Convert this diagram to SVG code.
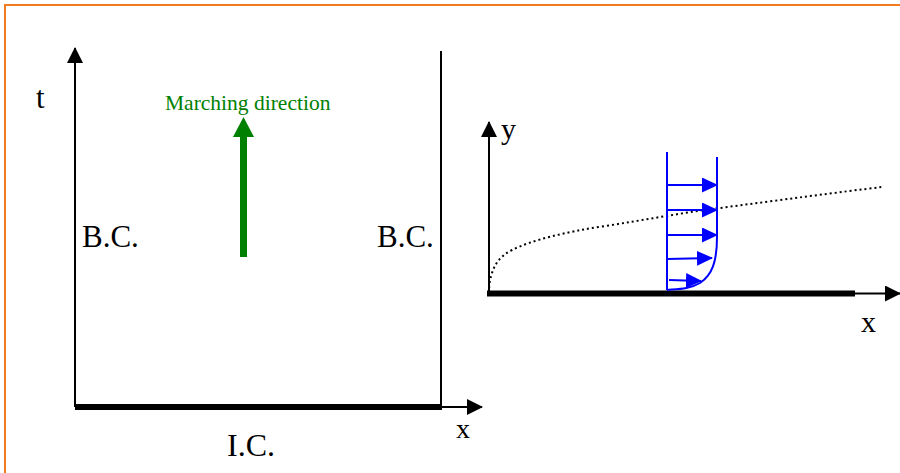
<svg xmlns="http://www.w3.org/2000/svg" width="900" height="473" viewBox="0 0 900 473">
<style>
.txt{font-family:"Liberation Serif","Times New Roman",serif;fill:#000}
.axis{stroke:#000;stroke-width:2;fill:none}
.wall{stroke:#000;stroke-width:6;fill:none}
.vel{stroke:#0000ff;stroke-width:2;fill:none}
</style>
<defs>
<marker id="ah" markerUnits="userSpaceOnUse" markerWidth="16" markerHeight="16" refX="15" refY="8" orient="auto">
<path d="M0,0 L16,8 L0,16 z" fill="#000"/>
</marker>
<marker id="bh" markerUnits="userSpaceOnUse" markerWidth="16" markerHeight="16" refX="15" refY="7.5" orient="auto">
<path d="M0,0 L16,7.5 L0,15 z" fill="#0000ff"/>
</marker>
</defs>
<rect width="900" height="473" fill="#fff"/>
<rect x="5" y="5" width="1000" height="1000" fill="none" stroke="#f47a20" stroke-width="2"/>

<g id="left-domain">
<line class="axis" x1="75" y1="407" x2="75" y2="48" marker-end="url(#ah)"/>
<line class="axis" x1="441" y1="51" x2="441" y2="407"/>
<line class="axis" x1="441" y1="407" x2="482" y2="407" marker-end="url(#ah)"/>
<line class="wall" x1="75" y1="407" x2="442" y2="407" stroke-width="5"/>
<text class="txt" x="36" y="108" font-size="31">t</text>
<text class="txt" x="82" y="247" font-size="31">B.C.</text>
<text class="txt" x="377" y="247" font-size="31">B.C.</text>
<text class="txt" x="227" y="456" font-size="32">I.C.</text>
<text class="txt" x="456" y="438" font-size="28">x</text>
</g>

<g id="marching">
<text class="txt" x="165" y="110" font-size="21.5" style="fill:#008000">Marching direction</text>
<rect x="240" y="135" width="7" height="122" fill="#008000"/>
<polygon points="243.5,117 254,137 233,137" fill="#008000"/>
</g>

<g id="right-domain">
<line class="axis" x1="489" y1="295" x2="489" y2="122" marker-end="url(#ah)"/>
<line class="axis" x1="854" y1="293.5" x2="900" y2="293.5" marker-end="url(#ah)"/>
<line class="wall" x1="487" y1="293.5" x2="855" y2="293.5" stroke-width="7"/>
<path d="M489,293 C489,284 490,279 492,273 C495,264 500,256 512,250 C532,240 565,232 605,226 C645,220 680,213 720,208 C780,200 840,192 882,187" fill="none" stroke="#000" stroke-width="2" stroke-dasharray="2 3"/>
<text class="txt" x="501" y="139" font-size="30">y</text>
<text class="txt" x="861" y="332" font-size="30">x</text>
</g>

<g id="velocity-profile">
<line class="vel" x1="667" y1="152" x2="667" y2="290"/>
<path class="vel" d="M717,157 L717,237 C717,262 712,275 700,283 C690,289 678,289 667,290"/>
<line class="vel" x1="667" y1="185" x2="717" y2="185" marker-end="url(#bh)"/>
<line class="vel" x1="667" y1="210" x2="717" y2="210" marker-end="url(#bh)"/>
<line class="vel" x1="667" y1="235" x2="717" y2="235" marker-end="url(#bh)"/>
<line class="vel" x1="667" y1="259" x2="712" y2="258" marker-end="url(#bh)"/>
<line class="vel" x1="669" y1="280" x2="701" y2="281" marker-end="url(#bh)"/>
</g>
</svg>
